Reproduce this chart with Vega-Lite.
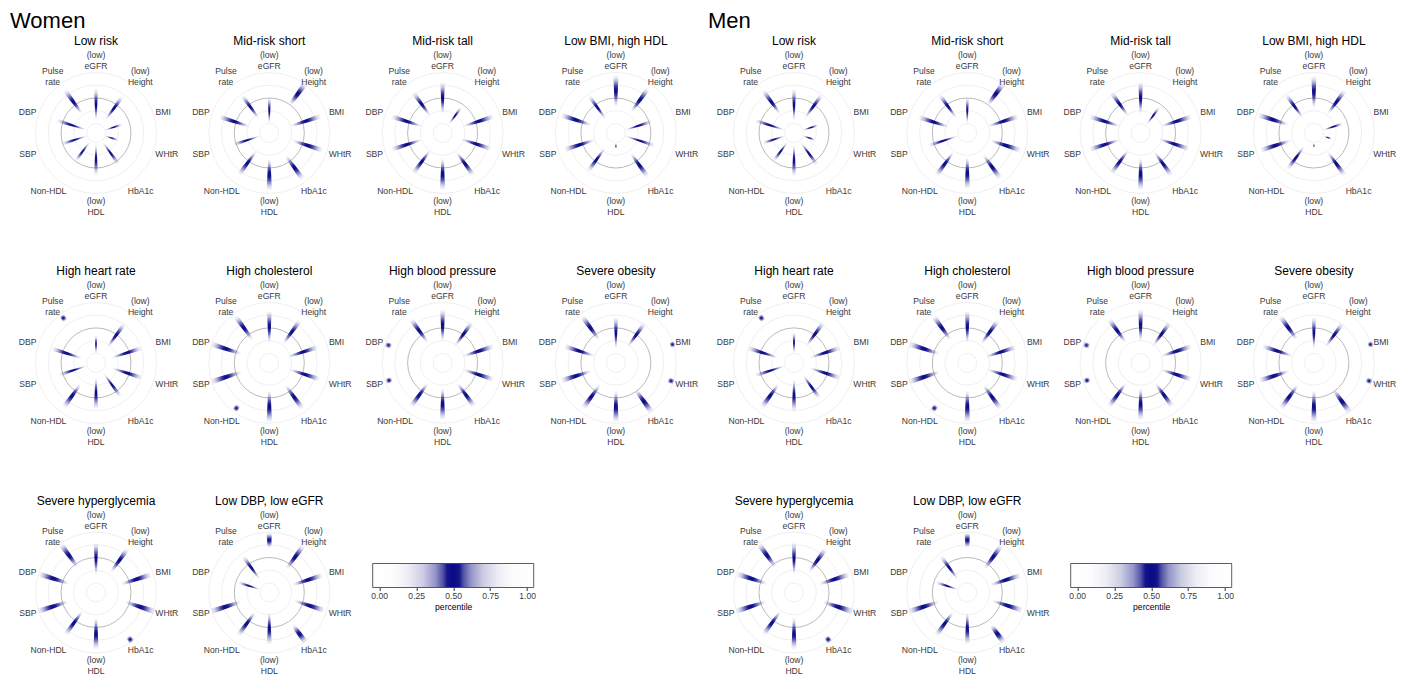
{
"$schema": "https://vega.github.io/schema/vega-lite/v6.json",
"background": "white",
"padding": {"left": 10, "top": 10, "right": 0, "bottom": 0},
"spacing": 8,
"config": {
 "font": "Liberation Sans",
 "view": {"stroke": null},
 "mark": {"color": {"gradient": "radial", "x1": 0.5, "y1": 0.5, "r1": 0, "x2": 0.5, "y2": 0.5, "r2": 0.55, "stops": [{"offset": 0, "color": "rgba(10,10,135,1)"}, {"offset": 0.15, "color": "rgba(10,10,135,0.95)"}, {"offset": 0.3, "color": "rgba(10,10,135,0.75)"}, {"offset": 0.45, "color": "rgba(10,10,135,0.5)"}, {"offset": 0.6, "color": "rgba(10,10,135,0.28)"}, {"offset": 0.75, "color": "rgba(10,10,135,0.12)"}, {"offset": 0.9, "color": "rgba(10,10,135,0.03)"}, {"offset": 1, "color": "rgba(10,10,135,0)"}]}},
 "title": {"fontSize": 22, "fontWeight": "normal", "anchor": "start", "color": "#000", "offset": 2},
 "header": {"labelFontSize": 12, "labelColor": "#000", "labelPadding": -1},
 "text": {"fontSize": 8.6, "color": "#3a3a3a", "lineHeight": 11, "align": "center", "baseline": "middle"}
},
"datasets": {
 "cb": [{"lo": -0.044, "hi": 1.044}],
 "d": [
{"s":"W","p":"Low risk","v":"eGFR","lo":0.07,"hi":0.67},
{"s":"W","p":"Low risk","v":"Height","lo":0.1,"hi":0.7},
{"s":"W","p":"Low risk","v":"BMI","lo":0,"hi":0.34},
{"s":"W","p":"Low risk","v":"WHtR","lo":0,"hi":0.26},
{"s":"W","p":"Low risk","v":"HbA1c","lo":0,"hi":0.58},
{"s":"W","p":"Low risk","v":"HDL","lo":0.03,"hi":0.63},
{"s":"W","p":"Low risk","v":"NonHDL","lo":0,"hi":0.5},
{"s":"W","p":"Low risk","v":"SBP","lo":0,"hi":0.5},
{"s":"W","p":"Low risk","v":"DBP","lo":0.01,"hi":0.61},
{"s":"W","p":"Low risk","v":"Pulse","lo":0.26,"hi":0.86},
{"s":"W","p":"Mid-risk short","v":"eGFR","lo":0,"hi":0.5},
{"s":"W","p":"Mid-risk short","v":"Height","lo":0.48,"hi":1.02},
{"s":"W","p":"Mid-risk short","v":"BMI","lo":0.26,"hi":0.86},
{"s":"W","p":"Mid-risk short","v":"WHtR","lo":0.3,"hi":0.9},
{"s":"W","p":"Mid-risk short","v":"HbA1c","lo":0.34,"hi":0.94},
{"s":"W","p":"Mid-risk short","v":"HDL","lo":0.33,"hi":0.93},
{"s":"W","p":"Mid-risk short","v":"NonHDL","lo":0.23,"hi":0.83},
{"s":"W","p":"Mid-risk short","v":"SBP","lo":0,"hi":0.54},
{"s":"W","p":"Mid-risk short","v":"DBP","lo":0.23,"hi":0.83},
{"s":"W","p":"Mid-risk short","v":"Pulse","lo":0.13,"hi":0.73},
{"s":"W","p":"Mid-risk tall","v":"eGFR","lo":0.2,"hi":0.8},
{"s":"W","p":"Mid-risk tall","v":"Height","lo":0,"hi":0.44},
{"s":"W","p":"Mid-risk tall","v":"BMI","lo":0.25,"hi":0.85},
{"s":"W","p":"Mid-risk tall","v":"WHtR","lo":0.2,"hi":0.8},
{"s":"W","p":"Mid-risk tall","v":"HbA1c","lo":0.25,"hi":0.85},
{"s":"W","p":"Mid-risk tall","v":"HDL","lo":0.32,"hi":0.92},
{"s":"W","p":"Mid-risk tall","v":"NonHDL","lo":0.2,"hi":0.8},
{"s":"W","p":"Mid-risk tall","v":"SBP","lo":0.25,"hi":0.85},
{"s":"W","p":"Mid-risk tall","v":"DBP","lo":0.25,"hi":0.85},
{"s":"W","p":"Mid-risk tall","v":"Pulse","lo":0.2,"hi":0.8},
{"s":"W","p":"Low BMI, high HDL","v":"eGFR","lo":0.34,"hi":0.94},
{"s":"W","p":"Low BMI, high HDL","v":"Height","lo":0.3,"hi":0.9},
{"s":"W","p":"Low BMI, high HDL","v":"BMI","lo":0,"hi":0.54},
{"s":"W","p":"Low BMI, high HDL","v":"WHtR","lo":0,"hi":0.6},
{"s":"W","p":"Low BMI, high HDL","v":"HbA1c","lo":0.28,"hi":0.88},
{"s":"W","p":"Low BMI, high HDL","v":"HDL","lo":0.02,"hi":0.12},
{"s":"W","p":"Low BMI, high HDL","v":"NonHDL","lo":0.15,"hi":0.75},
{"s":"W","p":"Low BMI, high HDL","v":"SBP","lo":0.26,"hi":0.86},
{"s":"W","p":"Low BMI, high HDL","v":"DBP","lo":0.33,"hi":0.93},
{"s":"W","p":"Low BMI, high HDL","v":"Pulse","lo":0.12,"hi":0.72},
{"s":"W","p":"High heart rate","v":"eGFR","lo":0,"hi":0.34},
{"s":"W","p":"High heart rate","v":"Height","lo":0.17,"hi":0.77},
{"s":"W","p":"High heart rate","v":"BMI","lo":0.14,"hi":0.74},
{"s":"W","p":"High heart rate","v":"WHtR","lo":0.15,"hi":0.75},
{"s":"W","p":"High heart rate","v":"HbA1c","lo":0.04,"hi":0.64},
{"s":"W","p":"High heart rate","v":"HDL","lo":0.11,"hi":0.71},
{"s":"W","p":"High heart rate","v":"NonHDL","lo":0.3,"hi":0.9},
{"s":"W","p":"High heart rate","v":"SBP","lo":0,"hi":0.56},
{"s":"W","p":"High heart rate","v":"DBP","lo":0.11,"hi":0.71},
{"s":"W","p":"High heart rate","v":"Pulse","lo":0.84,"hi":0.96},
{"s":"W","p":"High cholesterol","v":"eGFR","lo":0.22,"hi":0.82},
{"s":"W","p":"High cholesterol","v":"Height","lo":0.25,"hi":0.85},
{"s":"W","p":"High cholesterol","v":"BMI","lo":0.2,"hi":0.8},
{"s":"W","p":"High cholesterol","v":"WHtR","lo":0.24,"hi":0.84},
{"s":"W","p":"High cholesterol","v":"HbA1c","lo":0.33,"hi":0.93},
{"s":"W","p":"High cholesterol","v":"HDL","lo":0.37,"hi":0.97},
{"s":"W","p":"High cholesterol","v":"NonHDL","lo":0.85,"hi":0.97},
{"s":"W","p":"High cholesterol","v":"SBP","lo":0.4,"hi":1.0},
{"s":"W","p":"High cholesterol","v":"DBP","lo":0.4,"hi":1.0},
{"s":"W","p":"High cholesterol","v":"Pulse","lo":0.35,"hi":0.95},
{"s":"W","p":"High blood pressure","v":"eGFR","lo":0.25,"hi":0.85},
{"s":"W","p":"High blood pressure","v":"Height","lo":0.2,"hi":0.8},
{"s":"W","p":"High blood pressure","v":"BMI","lo":0.25,"hi":0.85},
{"s":"W","p":"High blood pressure","v":"WHtR","lo":0.25,"hi":0.85},
{"s":"W","p":"High blood pressure","v":"HbA1c","lo":0.28,"hi":0.88},
{"s":"W","p":"High blood pressure","v":"HDL","lo":0.32,"hi":0.92},
{"s":"W","p":"High blood pressure","v":"NonHDL","lo":0.28,"hi":0.88},
{"s":"W","p":"High blood pressure","v":"SBP","lo":0.86,"hi":0.98},
{"s":"W","p":"High blood pressure","v":"DBP","lo":0.87,"hi":0.99},
{"s":"W","p":"High blood pressure","v":"Pulse","lo":0.28,"hi":0.88},
{"s":"W","p":"Severe obesity","v":"eGFR","lo":0.1,"hi":0.7},
{"s":"W","p":"Severe obesity","v":"Height","lo":0.18,"hi":0.78},
{"s":"W","p":"Severe obesity","v":"BMI","lo":0.93,"hi":1.03},
{"s":"W","p":"Severe obesity","v":"WHtR","lo":0.89,"hi":1.01},
{"s":"W","p":"Severe obesity","v":"HbA1c","lo":0.44,"hi":1.02},
{"s":"W","p":"Severe obesity","v":"HDL","lo":0.37,"hi":0.97},
{"s":"W","p":"Severe obesity","v":"NonHDL","lo":0.32,"hi":0.92},
{"s":"W","p":"Severe obesity","v":"SBP","lo":0.33,"hi":0.93},
{"s":"W","p":"Severe obesity","v":"DBP","lo":0.26,"hi":0.86},
{"s":"W","p":"Severe obesity","v":"Pulse","lo":0.35,"hi":0.95},
{"s":"W","p":"Severe hyperglycemia","v":"eGFR","lo":0.18,"hi":0.78},
{"s":"W","p":"Severe hyperglycemia","v":"Height","lo":0.28,"hi":0.88},
{"s":"W","p":"Severe hyperglycemia","v":"BMI","lo":0.34,"hi":0.94},
{"s":"W","p":"Severe hyperglycemia","v":"WHtR","lo":0.42,"hi":1.02},
{"s":"W","p":"Severe hyperglycemia","v":"HbA1c","lo":0.89,"hi":1.01},
{"s":"W","p":"Severe hyperglycemia","v":"HDL","lo":0.32,"hi":0.92},
{"s":"W","p":"Severe hyperglycemia","v":"NonHDL","lo":0.24,"hi":0.84},
{"s":"W","p":"Severe hyperglycemia","v":"SBP","lo":0.4,"hi":1.0},
{"s":"W","p":"Severe hyperglycemia","v":"DBP","lo":0.38,"hi":0.98},
{"s":"W","p":"Severe hyperglycemia","v":"Pulse","lo":0.4,"hi":1.0},
{"s":"W","p":"Low DBP, low eGFR","v":"eGFR","lo":0.7,"hi":0.98},
{"s":"W","p":"Low DBP, low eGFR","v":"Height","lo":0.36,"hi":0.96},
{"s":"W","p":"Low DBP, low eGFR","v":"BMI","lo":0.3,"hi":0.9},
{"s":"W","p":"Low DBP, low eGFR","v":"WHtR","lo":0.34,"hi":0.94},
{"s":"W","p":"Low DBP, low eGFR","v":"HbA1c","lo":0.6,"hi":1.02},
{"s":"W","p":"Low DBP, low eGFR","v":"HDL","lo":0.22,"hi":0.82},
{"s":"W","p":"Low DBP, low eGFR","v":"NonHDL","lo":0.26,"hi":0.86},
{"s":"W","p":"Low DBP, low eGFR","v":"SBP","lo":0.41,"hi":1.01},
{"s":"W","p":"Low DBP, low eGFR","v":"DBP","lo":0,"hi":0.44},
{"s":"W","p":"Low DBP, low eGFR","v":"Pulse","lo":0.1,"hi":0.7},
{"s":"M","p":"Low risk","v":"eGFR","lo":0.06,"hi":0.66},
{"s":"M","p":"Low risk","v":"Height","lo":0.15,"hi":0.75},
{"s":"M","p":"Low risk","v":"BMI","lo":0,"hi":0.3},
{"s":"M","p":"Low risk","v":"WHtR","lo":0,"hi":0.24},
{"s":"M","p":"Low risk","v":"HbA1c","lo":0,"hi":0.6},
{"s":"M","p":"Low risk","v":"HDL","lo":0.05,"hi":0.65},
{"s":"M","p":"Low risk","v":"NonHDL","lo":0,"hi":0.5},
{"s":"M","p":"Low risk","v":"SBP","lo":0,"hi":0.44},
{"s":"M","p":"Low risk","v":"DBP","lo":0,"hi":0.6},
{"s":"M","p":"Low risk","v":"Pulse","lo":0.25,"hi":0.85},
{"s":"M","p":"Mid-risk short","v":"eGFR","lo":0,"hi":0.5},
{"s":"M","p":"Mid-risk short","v":"Height","lo":0.48,"hi":1.02},
{"s":"M","p":"Mid-risk short","v":"BMI","lo":0.25,"hi":0.85},
{"s":"M","p":"Mid-risk short","v":"WHtR","lo":0.3,"hi":0.9},
{"s":"M","p":"Mid-risk short","v":"HbA1c","lo":0.32,"hi":0.92},
{"s":"M","p":"Mid-risk short","v":"HDL","lo":0.3,"hi":0.9},
{"s":"M","p":"Mid-risk short","v":"NonHDL","lo":0.25,"hi":0.85},
{"s":"M","p":"Mid-risk short","v":"SBP","lo":0,"hi":0.6},
{"s":"M","p":"Mid-risk short","v":"DBP","lo":0.2,"hi":0.8},
{"s":"M","p":"Mid-risk short","v":"Pulse","lo":0.15,"hi":0.75},
{"s":"M","p":"Mid-risk tall","v":"eGFR","lo":0.2,"hi":0.8},
{"s":"M","p":"Mid-risk tall","v":"Height","lo":0,"hi":0.44},
{"s":"M","p":"Mid-risk tall","v":"BMI","lo":0.25,"hi":0.85},
{"s":"M","p":"Mid-risk tall","v":"WHtR","lo":0.2,"hi":0.8},
{"s":"M","p":"Mid-risk tall","v":"HbA1c","lo":0.25,"hi":0.85},
{"s":"M","p":"Mid-risk tall","v":"HDL","lo":0.32,"hi":0.92},
{"s":"M","p":"Mid-risk tall","v":"NonHDL","lo":0.2,"hi":0.8},
{"s":"M","p":"Mid-risk tall","v":"SBP","lo":0.25,"hi":0.85},
{"s":"M","p":"Mid-risk tall","v":"DBP","lo":0.25,"hi":0.85},
{"s":"M","p":"Mid-risk tall","v":"Pulse","lo":0.2,"hi":0.8},
{"s":"M","p":"Low BMI, high HDL","v":"eGFR","lo":0.32,"hi":0.92},
{"s":"M","p":"Low BMI, high HDL","v":"Height","lo":0.25,"hi":0.85},
{"s":"M","p":"Low BMI, high HDL","v":"BMI","lo":0,"hi":0.4},
{"s":"M","p":"Low BMI, high HDL","v":"WHtR","lo":0.03,"hi":0.17},
{"s":"M","p":"Low BMI, high HDL","v":"HbA1c","lo":0.25,"hi":0.85},
{"s":"M","p":"Low BMI, high HDL","v":"HDL","lo":0.02,"hi":0.1},
{"s":"M","p":"Low BMI, high HDL","v":"NonHDL","lo":0.1,"hi":0.7},
{"s":"M","p":"Low BMI, high HDL","v":"SBP","lo":0.3,"hi":0.9},
{"s":"M","p":"Low BMI, high HDL","v":"DBP","lo":0.35,"hi":0.95},
{"s":"M","p":"Low BMI, high HDL","v":"Pulse","lo":0.15,"hi":0.75},
{"s":"M","p":"High heart rate","v":"eGFR","lo":0,"hi":0.4},
{"s":"M","p":"High heart rate","v":"Height","lo":0.2,"hi":0.8},
{"s":"M","p":"High heart rate","v":"BMI","lo":0.15,"hi":0.75},
{"s":"M","p":"High heart rate","v":"WHtR","lo":0.15,"hi":0.75},
{"s":"M","p":"High heart rate","v":"HbA1c","lo":0.08,"hi":0.68},
{"s":"M","p":"High heart rate","v":"HDL","lo":0.15,"hi":0.75},
{"s":"M","p":"High heart rate","v":"NonHDL","lo":0.3,"hi":0.9},
{"s":"M","p":"High heart rate","v":"SBP","lo":0,"hi":0.6},
{"s":"M","p":"High heart rate","v":"DBP","lo":0.15,"hi":0.75},
{"s":"M","p":"High heart rate","v":"Pulse","lo":0.84,"hi":0.96},
{"s":"M","p":"High cholesterol","v":"eGFR","lo":0.22,"hi":0.82},
{"s":"M","p":"High cholesterol","v":"Height","lo":0.25,"hi":0.85},
{"s":"M","p":"High cholesterol","v":"BMI","lo":0.2,"hi":0.8},
{"s":"M","p":"High cholesterol","v":"WHtR","lo":0.24,"hi":0.84},
{"s":"M","p":"High cholesterol","v":"HbA1c","lo":0.33,"hi":0.93},
{"s":"M","p":"High cholesterol","v":"HDL","lo":0.37,"hi":0.97},
{"s":"M","p":"High cholesterol","v":"NonHDL","lo":0.85,"hi":0.97},
{"s":"M","p":"High cholesterol","v":"SBP","lo":0.4,"hi":1.0},
{"s":"M","p":"High cholesterol","v":"DBP","lo":0.4,"hi":1.0},
{"s":"M","p":"High cholesterol","v":"Pulse","lo":0.35,"hi":0.95},
{"s":"M","p":"High blood pressure","v":"eGFR","lo":0.25,"hi":0.85},
{"s":"M","p":"High blood pressure","v":"Height","lo":0.2,"hi":0.8},
{"s":"M","p":"High blood pressure","v":"BMI","lo":0.25,"hi":0.85},
{"s":"M","p":"High blood pressure","v":"WHtR","lo":0.25,"hi":0.85},
{"s":"M","p":"High blood pressure","v":"HbA1c","lo":0.28,"hi":0.88},
{"s":"M","p":"High blood pressure","v":"HDL","lo":0.32,"hi":0.92},
{"s":"M","p":"High blood pressure","v":"NonHDL","lo":0.28,"hi":0.88},
{"s":"M","p":"High blood pressure","v":"SBP","lo":0.86,"hi":0.98},
{"s":"M","p":"High blood pressure","v":"DBP","lo":0.87,"hi":0.99},
{"s":"M","p":"High blood pressure","v":"Pulse","lo":0.28,"hi":0.88},
{"s":"M","p":"Severe obesity","v":"eGFR","lo":0.1,"hi":0.7},
{"s":"M","p":"Severe obesity","v":"Height","lo":0.18,"hi":0.78},
{"s":"M","p":"Severe obesity","v":"BMI","lo":0.93,"hi":1.03},
{"s":"M","p":"Severe obesity","v":"WHtR","lo":0.89,"hi":1.01},
{"s":"M","p":"Severe obesity","v":"HbA1c","lo":0.44,"hi":1.02},
{"s":"M","p":"Severe obesity","v":"HDL","lo":0.37,"hi":0.97},
{"s":"M","p":"Severe obesity","v":"NonHDL","lo":0.32,"hi":0.92},
{"s":"M","p":"Severe obesity","v":"SBP","lo":0.33,"hi":0.93},
{"s":"M","p":"Severe obesity","v":"DBP","lo":0.26,"hi":0.86},
{"s":"M","p":"Severe obesity","v":"Pulse","lo":0.35,"hi":0.95},
{"s":"M","p":"Severe hyperglycemia","v":"eGFR","lo":0.18,"hi":0.78},
{"s":"M","p":"Severe hyperglycemia","v":"Height","lo":0.28,"hi":0.88},
{"s":"M","p":"Severe hyperglycemia","v":"BMI","lo":0.34,"hi":0.94},
{"s":"M","p":"Severe hyperglycemia","v":"WHtR","lo":0.42,"hi":1.02},
{"s":"M","p":"Severe hyperglycemia","v":"HbA1c","lo":0.89,"hi":1.01},
{"s":"M","p":"Severe hyperglycemia","v":"HDL","lo":0.32,"hi":0.92},
{"s":"M","p":"Severe hyperglycemia","v":"NonHDL","lo":0.24,"hi":0.84},
{"s":"M","p":"Severe hyperglycemia","v":"SBP","lo":0.4,"hi":1.0},
{"s":"M","p":"Severe hyperglycemia","v":"DBP","lo":0.38,"hi":0.98},
{"s":"M","p":"Severe hyperglycemia","v":"Pulse","lo":0.4,"hi":1.0},
{"s":"M","p":"Low DBP, low eGFR","v":"eGFR","lo":0.7,"hi":0.98},
{"s":"M","p":"Low DBP, low eGFR","v":"Height","lo":0.36,"hi":0.96},
{"s":"M","p":"Low DBP, low eGFR","v":"BMI","lo":0.3,"hi":0.9},
{"s":"M","p":"Low DBP, low eGFR","v":"WHtR","lo":0.34,"hi":0.94},
{"s":"M","p":"Low DBP, low eGFR","v":"HbA1c","lo":0.6,"hi":1.02},
{"s":"M","p":"Low DBP, low eGFR","v":"HDL","lo":0.22,"hi":0.82},
{"s":"M","p":"Low DBP, low eGFR","v":"NonHDL","lo":0.26,"hi":0.86},
{"s":"M","p":"Low DBP, low eGFR","v":"SBP","lo":0.41,"hi":1.01},
{"s":"M","p":"Low DBP, low eGFR","v":"DBP","lo":0,"hi":0.44},
{"s":"M","p":"Low DBP, low eGFR","v":"Pulse","lo":0.1,"hi":0.7}
 ]
},
"hconcat": [
 {"title": {"text": "Women", "dx": -2}, "spacing": 45.5, "vconcat": [
  {"data": {"name": "d"}, "transform": [{"filter": {"field": "s", "equal": "W"}}, {"filter": {"field": "p", "oneOf": ["Low risk", "Mid-risk short", "Mid-risk tall", "Low BMI, high HDL", "High heart rate", "High cholesterol", "High blood pressure", "Severe obesity"]}}],
   "facet": {"field": "p", "type": "nominal", "title": null, "sort": ["Low risk", "Mid-risk short", "Mid-risk tall", "Low BMI, high HDL", "High heart rate", "High cholesterol", "High blood pressure", "Severe obesity"]},
   "columns": 4, "spacing": {"row": 45.9, "column": 5.3},
   "spec": {"width": 168, "height": 172, "layer": [
{"transform":[{"filter":"datum.v=='eGFR'"}],"mark":{"type":"arc","theta":0,"theta2":6.2832,"radius2":0,"filled":false,"stroke":"#ebebeb","strokeWidth":0.8},"encoding":{"radius":{"datum":0,"type":"quantitative","scale":{"type":"linear","domain":[0,1],"range":[9.5,60.5]}}}},
{"transform":[{"filter":"datum.v=='eGFR'"}],"mark":{"type":"arc","theta":0,"theta2":6.2832,"radius2":0,"filled":false,"stroke":"#ebebeb","strokeWidth":0.8},"encoding":{"radius":{"datum":0.25,"type":"quantitative","scale":{"type":"linear","domain":[0,1],"range":[9.5,60.5]}}}},
{"transform":[{"filter":"datum.v=='eGFR'"}],"mark":{"type":"arc","theta":0,"theta2":6.2832,"radius2":0,"filled":false,"stroke":"#ebebeb","strokeWidth":0.8},"encoding":{"radius":{"datum":0.75,"type":"quantitative","scale":{"type":"linear","domain":[0,1],"range":[9.5,60.5]}}}},
{"transform":[{"filter":"datum.v=='eGFR'"}],"mark":{"type":"arc","theta":0,"theta2":6.2832,"radius2":0,"filled":false,"stroke":"#ebebeb","strokeWidth":0.8},"encoding":{"radius":{"datum":1,"type":"quantitative","scale":{"type":"linear","domain":[0,1],"range":[9.5,60.5]}}}},
{"transform":[{"filter":"datum.v=='eGFR'"}],"mark":{"type":"arc","theta":0,"theta2":6.2832,"radius2":0,"filled":false,"stroke":"#a8a8a8","strokeWidth":0.8},"encoding":{"radius":{"datum":0.5,"type":"quantitative","scale":{"type":"linear","domain":[0,1],"range":[9.5,60.5]}}}},
{"transform":[{"filter":"datum.v=='eGFR'"}],"mark":{"type":"arc","theta":-0.045,"theta2":0.045},"encoding":{"radius":{"field":"lo","type":"quantitative","scale":{"type":"linear","domain":[0,1],"range":[9.5,60.5]}},"radius2":{"field":"hi"}}},
{"transform":[{"filter":"datum.v=='Height'"}],"mark":{"type":"arc","theta":0.5833,"theta2":0.6733},"encoding":{"radius":{"field":"lo","type":"quantitative","scale":{"type":"linear","domain":[0,1],"range":[9.5,60.5]}},"radius2":{"field":"hi"}}},
{"transform":[{"filter":"datum.v=='BMI'"}],"mark":{"type":"arc","theta":1.2116,"theta2":1.3016},"encoding":{"radius":{"field":"lo","type":"quantitative","scale":{"type":"linear","domain":[0,1],"range":[9.5,60.5]}},"radius2":{"field":"hi"}}},
{"transform":[{"filter":"datum.v=='WHtR'"}],"mark":{"type":"arc","theta":1.84,"theta2":1.93},"encoding":{"radius":{"field":"lo","type":"quantitative","scale":{"type":"linear","domain":[0,1],"range":[9.5,60.5]}},"radius2":{"field":"hi"}}},
{"transform":[{"filter":"datum.v=='HbA1c'"}],"mark":{"type":"arc","theta":2.4683,"theta2":2.5583},"encoding":{"radius":{"field":"lo","type":"quantitative","scale":{"type":"linear","domain":[0,1],"range":[9.5,60.5]}},"radius2":{"field":"hi"}}},
{"transform":[{"filter":"datum.v=='HDL'"}],"mark":{"type":"arc","theta":3.0966,"theta2":3.1866},"encoding":{"radius":{"field":"lo","type":"quantitative","scale":{"type":"linear","domain":[0,1],"range":[9.5,60.5]}},"radius2":{"field":"hi"}}},
{"transform":[{"filter":"datum.v=='NonHDL'"}],"mark":{"type":"arc","theta":3.7249,"theta2":3.8149},"encoding":{"radius":{"field":"lo","type":"quantitative","scale":{"type":"linear","domain":[0,1],"range":[9.5,60.5]}},"radius2":{"field":"hi"}}},
{"transform":[{"filter":"datum.v=='SBP'"}],"mark":{"type":"arc","theta":4.3532,"theta2":4.4432},"encoding":{"radius":{"field":"lo","type":"quantitative","scale":{"type":"linear","domain":[0,1],"range":[9.5,60.5]}},"radius2":{"field":"hi"}}},
{"transform":[{"filter":"datum.v=='DBP'"}],"mark":{"type":"arc","theta":4.9815,"theta2":5.0715},"encoding":{"radius":{"field":"lo","type":"quantitative","scale":{"type":"linear","domain":[0,1],"range":[9.5,60.5]}},"radius2":{"field":"hi"}}},
{"transform":[{"filter":"datum.v=='Pulse'"}],"mark":{"type":"arc","theta":5.6099,"theta2":5.6999},"encoding":{"radius":{"field":"lo","type":"quantitative","scale":{"type":"linear","domain":[0,1],"range":[9.5,60.5]}},"radius2":{"field":"hi"}}},
{"transform":[{"filter":"datum.v=='eGFR'"}],"mark":{"type":"text","text":["(low)","eGFR"],"dx":0,"dy":-15},"encoding":{"theta":{"datum":0,"type":"quantitative","scale":{"type":"linear","domain":[0,360],"range":[0,6.2832]}},"radius":{"datum":1.049,"type":"quantitative","scale":{"type":"linear","domain":[0,1],"range":[9.5,60.5]}}}},
{"transform":[{"filter":"datum.v=='eGFR'"}],"mark":{"type":"text","text":["(low)","Height"],"dx":7.3,"dy":-11},"encoding":{"theta":{"datum":36,"type":"quantitative","scale":{"type":"linear","domain":[0,360],"range":[0,6.2832]}},"radius":{"datum":1.049,"type":"quantitative","scale":{"type":"linear","domain":[0,1],"range":[9.5,60.5]}}}},
{"transform":[{"filter":"datum.v=='eGFR'"}],"mark":{"type":"text","text":"BMI","dx":7.3,"dy":-1.5},"encoding":{"theta":{"datum":72,"type":"quantitative","scale":{"type":"linear","domain":[0,360],"range":[0,6.2832]}},"radius":{"datum":1.049,"type":"quantitative","scale":{"type":"linear","domain":[0,1],"range":[9.5,60.5]}}}},
{"transform":[{"filter":"datum.v=='eGFR'"}],"mark":{"type":"text","text":"WHtR","dx":10.9,"dy":1.5},"encoding":{"theta":{"datum":108,"type":"quantitative","scale":{"type":"linear","domain":[0,360],"range":[0,6.2832]}},"radius":{"datum":1.049,"type":"quantitative","scale":{"type":"linear","domain":[0,1],"range":[9.5,60.5]}}}},
{"transform":[{"filter":"datum.v=='eGFR'"}],"mark":{"type":"text","text":"HbA1c","dx":7.6,"dy":7},"encoding":{"theta":{"datum":144,"type":"quantitative","scale":{"type":"linear","domain":[0,360],"range":[0,6.2832]}},"radius":{"datum":1.049,"type":"quantitative","scale":{"type":"linear","domain":[0,1],"range":[9.5,60.5]}}}},
{"transform":[{"filter":"datum.v=='eGFR'"}],"mark":{"type":"text","text":["(low)","HDL"],"dx":0,"dy":5},"encoding":{"theta":{"datum":180,"type":"quantitative","scale":{"type":"linear","domain":[0,360],"range":[0,6.2832]}},"radius":{"datum":1.049,"type":"quantitative","scale":{"type":"linear","domain":[0,1],"range":[9.5,60.5]}}}},
{"transform":[{"filter":"datum.v=='eGFR'"}],"mark":{"type":"text","text":"Non-HDL","dx":-10.5,"dy":7},"encoding":{"theta":{"datum":216,"type":"quantitative","scale":{"type":"linear","domain":[0,360],"range":[0,6.2832]}},"radius":{"datum":1.049,"type":"quantitative","scale":{"type":"linear","domain":[0,1],"range":[9.5,60.5]}}}},
{"transform":[{"filter":"datum.v=='eGFR'"}],"mark":{"type":"text","text":"SBP","dx":-8.2,"dy":1.5},"encoding":{"theta":{"datum":252,"type":"quantitative","scale":{"type":"linear","domain":[0,360],"range":[0,6.2832]}},"radius":{"datum":1.049,"type":"quantitative","scale":{"type":"linear","domain":[0,1],"range":[9.5,60.5]}}}},
{"transform":[{"filter":"datum.v=='eGFR'"}],"mark":{"type":"text","text":"DBP","dx":-8.4,"dy":-1.5},"encoding":{"theta":{"datum":288,"type":"quantitative","scale":{"type":"linear","domain":[0,360],"range":[0,6.2832]}},"radius":{"datum":1.049,"type":"quantitative","scale":{"type":"linear","domain":[0,1],"range":[9.5,60.5]}}}},
{"transform":[{"filter":"datum.v=='eGFR'"}],"mark":{"type":"text","text":["Pulse","rate"],"dx":-6.3,"dy":-11},"encoding":{"theta":{"datum":324,"type":"quantitative","scale":{"type":"linear","domain":[0,360],"range":[0,6.2832]}},"radius":{"datum":1.049,"type":"quantitative","scale":{"type":"linear","domain":[0,1],"range":[9.5,60.5]}}}}
   ]}},
  {"spacing": 16.7, "hconcat": [
   {"data": {"name": "d"}, "transform": [{"filter": {"field": "s", "equal": "W"}}, {"filter": {"field": "p", "oneOf": ["Severe hyperglycemia", "Low DBP, low eGFR"]}}],
    "facet": {"field": "p", "type": "nominal", "title": null, "sort": ["Severe hyperglycemia", "Low DBP, low eGFR"]},
    "columns": 4, "spacing": {"row": 45.9, "column": 5.3},
    "spec": {"width": 168, "height": 172, "layer": [
{"transform":[{"filter":"datum.v=='eGFR'"}],"mark":{"type":"arc","theta":0,"theta2":6.2832,"radius2":0,"filled":false,"stroke":"#ebebeb","strokeWidth":0.8},"encoding":{"radius":{"datum":0,"type":"quantitative","scale":{"type":"linear","domain":[0,1],"range":[9.5,60.5]}}}},
{"transform":[{"filter":"datum.v=='eGFR'"}],"mark":{"type":"arc","theta":0,"theta2":6.2832,"radius2":0,"filled":false,"stroke":"#ebebeb","strokeWidth":0.8},"encoding":{"radius":{"datum":0.25,"type":"quantitative","scale":{"type":"linear","domain":[0,1],"range":[9.5,60.5]}}}},
{"transform":[{"filter":"datum.v=='eGFR'"}],"mark":{"type":"arc","theta":0,"theta2":6.2832,"radius2":0,"filled":false,"stroke":"#ebebeb","strokeWidth":0.8},"encoding":{"radius":{"datum":0.75,"type":"quantitative","scale":{"type":"linear","domain":[0,1],"range":[9.5,60.5]}}}},
{"transform":[{"filter":"datum.v=='eGFR'"}],"mark":{"type":"arc","theta":0,"theta2":6.2832,"radius2":0,"filled":false,"stroke":"#ebebeb","strokeWidth":0.8},"encoding":{"radius":{"datum":1,"type":"quantitative","scale":{"type":"linear","domain":[0,1],"range":[9.5,60.5]}}}},
{"transform":[{"filter":"datum.v=='eGFR'"}],"mark":{"type":"arc","theta":0,"theta2":6.2832,"radius2":0,"filled":false,"stroke":"#a8a8a8","strokeWidth":0.8},"encoding":{"radius":{"datum":0.5,"type":"quantitative","scale":{"type":"linear","domain":[0,1],"range":[9.5,60.5]}}}},
{"transform":[{"filter":"datum.v=='eGFR'"}],"mark":{"type":"arc","theta":-0.045,"theta2":0.045},"encoding":{"radius":{"field":"lo","type":"quantitative","scale":{"type":"linear","domain":[0,1],"range":[9.5,60.5]}},"radius2":{"field":"hi"}}},
{"transform":[{"filter":"datum.v=='Height'"}],"mark":{"type":"arc","theta":0.5833,"theta2":0.6733},"encoding":{"radius":{"field":"lo","type":"quantitative","scale":{"type":"linear","domain":[0,1],"range":[9.5,60.5]}},"radius2":{"field":"hi"}}},
{"transform":[{"filter":"datum.v=='BMI'"}],"mark":{"type":"arc","theta":1.2116,"theta2":1.3016},"encoding":{"radius":{"field":"lo","type":"quantitative","scale":{"type":"linear","domain":[0,1],"range":[9.5,60.5]}},"radius2":{"field":"hi"}}},
{"transform":[{"filter":"datum.v=='WHtR'"}],"mark":{"type":"arc","theta":1.84,"theta2":1.93},"encoding":{"radius":{"field":"lo","type":"quantitative","scale":{"type":"linear","domain":[0,1],"range":[9.5,60.5]}},"radius2":{"field":"hi"}}},
{"transform":[{"filter":"datum.v=='HbA1c'"}],"mark":{"type":"arc","theta":2.4683,"theta2":2.5583},"encoding":{"radius":{"field":"lo","type":"quantitative","scale":{"type":"linear","domain":[0,1],"range":[9.5,60.5]}},"radius2":{"field":"hi"}}},
{"transform":[{"filter":"datum.v=='HDL'"}],"mark":{"type":"arc","theta":3.0966,"theta2":3.1866},"encoding":{"radius":{"field":"lo","type":"quantitative","scale":{"type":"linear","domain":[0,1],"range":[9.5,60.5]}},"radius2":{"field":"hi"}}},
{"transform":[{"filter":"datum.v=='NonHDL'"}],"mark":{"type":"arc","theta":3.7249,"theta2":3.8149},"encoding":{"radius":{"field":"lo","type":"quantitative","scale":{"type":"linear","domain":[0,1],"range":[9.5,60.5]}},"radius2":{"field":"hi"}}},
{"transform":[{"filter":"datum.v=='SBP'"}],"mark":{"type":"arc","theta":4.3532,"theta2":4.4432},"encoding":{"radius":{"field":"lo","type":"quantitative","scale":{"type":"linear","domain":[0,1],"range":[9.5,60.5]}},"radius2":{"field":"hi"}}},
{"transform":[{"filter":"datum.v=='DBP'"}],"mark":{"type":"arc","theta":4.9815,"theta2":5.0715},"encoding":{"radius":{"field":"lo","type":"quantitative","scale":{"type":"linear","domain":[0,1],"range":[9.5,60.5]}},"radius2":{"field":"hi"}}},
{"transform":[{"filter":"datum.v=='Pulse'"}],"mark":{"type":"arc","theta":5.6099,"theta2":5.6999},"encoding":{"radius":{"field":"lo","type":"quantitative","scale":{"type":"linear","domain":[0,1],"range":[9.5,60.5]}},"radius2":{"field":"hi"}}},
{"transform":[{"filter":"datum.v=='eGFR'"}],"mark":{"type":"text","text":["(low)","eGFR"],"dx":0,"dy":-15},"encoding":{"theta":{"datum":0,"type":"quantitative","scale":{"type":"linear","domain":[0,360],"range":[0,6.2832]}},"radius":{"datum":1.049,"type":"quantitative","scale":{"type":"linear","domain":[0,1],"range":[9.5,60.5]}}}},
{"transform":[{"filter":"datum.v=='eGFR'"}],"mark":{"type":"text","text":["(low)","Height"],"dx":7.3,"dy":-11},"encoding":{"theta":{"datum":36,"type":"quantitative","scale":{"type":"linear","domain":[0,360],"range":[0,6.2832]}},"radius":{"datum":1.049,"type":"quantitative","scale":{"type":"linear","domain":[0,1],"range":[9.5,60.5]}}}},
{"transform":[{"filter":"datum.v=='eGFR'"}],"mark":{"type":"text","text":"BMI","dx":7.3,"dy":-1.5},"encoding":{"theta":{"datum":72,"type":"quantitative","scale":{"type":"linear","domain":[0,360],"range":[0,6.2832]}},"radius":{"datum":1.049,"type":"quantitative","scale":{"type":"linear","domain":[0,1],"range":[9.5,60.5]}}}},
{"transform":[{"filter":"datum.v=='eGFR'"}],"mark":{"type":"text","text":"WHtR","dx":10.9,"dy":1.5},"encoding":{"theta":{"datum":108,"type":"quantitative","scale":{"type":"linear","domain":[0,360],"range":[0,6.2832]}},"radius":{"datum":1.049,"type":"quantitative","scale":{"type":"linear","domain":[0,1],"range":[9.5,60.5]}}}},
{"transform":[{"filter":"datum.v=='eGFR'"}],"mark":{"type":"text","text":"HbA1c","dx":7.6,"dy":7},"encoding":{"theta":{"datum":144,"type":"quantitative","scale":{"type":"linear","domain":[0,360],"range":[0,6.2832]}},"radius":{"datum":1.049,"type":"quantitative","scale":{"type":"linear","domain":[0,1],"range":[9.5,60.5]}}}},
{"transform":[{"filter":"datum.v=='eGFR'"}],"mark":{"type":"text","text":["(low)","HDL"],"dx":0,"dy":5},"encoding":{"theta":{"datum":180,"type":"quantitative","scale":{"type":"linear","domain":[0,360],"range":[0,6.2832]}},"radius":{"datum":1.049,"type":"quantitative","scale":{"type":"linear","domain":[0,1],"range":[9.5,60.5]}}}},
{"transform":[{"filter":"datum.v=='eGFR'"}],"mark":{"type":"text","text":"Non-HDL","dx":-10.5,"dy":7},"encoding":{"theta":{"datum":216,"type":"quantitative","scale":{"type":"linear","domain":[0,360],"range":[0,6.2832]}},"radius":{"datum":1.049,"type":"quantitative","scale":{"type":"linear","domain":[0,1],"range":[9.5,60.5]}}}},
{"transform":[{"filter":"datum.v=='eGFR'"}],"mark":{"type":"text","text":"SBP","dx":-8.2,"dy":1.5},"encoding":{"theta":{"datum":252,"type":"quantitative","scale":{"type":"linear","domain":[0,360],"range":[0,6.2832]}},"radius":{"datum":1.049,"type":"quantitative","scale":{"type":"linear","domain":[0,1],"range":[9.5,60.5]}}}},
{"transform":[{"filter":"datum.v=='eGFR'"}],"mark":{"type":"text","text":"DBP","dx":-8.4,"dy":-1.5},"encoding":{"theta":{"datum":288,"type":"quantitative","scale":{"type":"linear","domain":[0,360],"range":[0,6.2832]}},"radius":{"datum":1.049,"type":"quantitative","scale":{"type":"linear","domain":[0,1],"range":[9.5,60.5]}}}},
{"transform":[{"filter":"datum.v=='eGFR'"}],"mark":{"type":"text","text":["Pulse","rate"],"dx":-6.3,"dy":-11},"encoding":{"theta":{"datum":324,"type":"quantitative","scale":{"type":"linear","domain":[0,360],"range":[0,6.2832]}},"radius":{"datum":1.049,"type":"quantitative","scale":{"type":"linear","domain":[0,1],"range":[9.5,60.5]}}}}
    ]}},
   {"width": 161, "height": 81, "data": {"name": "cb"}, "mark": {"type": "rect", "stroke": "#333", "strokeWidth": 0.8, "fill": {"gradient": "linear", "x1": 0, "y1": 0.5, "x2": 1, "y2": 0.5, "stops": [{"offset": 0, "color": "#ffffff"}, {"offset": 0.132, "color": "#fcfcfe"}, {"offset": 0.224, "color": "#ececf5"}, {"offset": 0.316, "color": "#cacae3"}, {"offset": 0.39, "color": "#9494c8"}, {"offset": 0.436, "color": "#5252a6"}, {"offset": 0.463, "color": "#14148b"}, {"offset": 0.5, "color": "#0a0a87"}, {"offset": 0.537, "color": "#14148b"}, {"offset": 0.564, "color": "#5252a6"}, {"offset": 0.61, "color": "#9494c8"}, {"offset": 0.684, "color": "#cacae3"}, {"offset": 0.776, "color": "#ececf5"}, {"offset": 0.868, "color": "#fcfcfe"}, {"offset": 1, "color": "#ffffff"}]}},
    "encoding": {"x": {"field": "lo", "type": "quantitative", "scale": {"domain": [-0.044, 1.044], "nice": false, "zero": false}, "axis": {"values": [0, 0.25, 0.5, 0.75, 1], "format": ".2f", "title": "percentile", "domain": false, "grid": false, "tickSize": 3, "tickColor": "#333", "labelColor": "#3a3a3a", "labelFontSize": 8.6, "titleFontSize": 8.6, "titleFontWeight": "normal", "titleColor": "#000", "labelPadding": 1, "titlePadding": 2}}, "x2": {"field": "hi"},
     "y": {"datum": 0, "type": "quantitative", "scale": {"domain": [0, 3.375], "nice": false, "zero": false}, "axis": null}, "y2": {"datum": 1}}}
  ]}
 ]},
 {"title": {"text": "Men", "dx": -2}, "spacing": 45.5, "vconcat": [
  {"data": {"name": "d"}, "transform": [{"filter": {"field": "s", "equal": "M"}}, {"filter": {"field": "p", "oneOf": ["Low risk", "Mid-risk short", "Mid-risk tall", "Low BMI, high HDL", "High heart rate", "High cholesterol", "High blood pressure", "Severe obesity"]}}],
   "facet": {"field": "p", "type": "nominal", "title": null, "sort": ["Low risk", "Mid-risk short", "Mid-risk tall", "Low BMI, high HDL", "High heart rate", "High cholesterol", "High blood pressure", "Severe obesity"]},
   "columns": 4, "spacing": {"row": 45.9, "column": 5.3},
   "spec": {"width": 168, "height": 172, "layer": [
{"transform":[{"filter":"datum.v=='eGFR'"}],"mark":{"type":"arc","theta":0,"theta2":6.2832,"radius2":0,"filled":false,"stroke":"#ebebeb","strokeWidth":0.8},"encoding":{"radius":{"datum":0,"type":"quantitative","scale":{"type":"linear","domain":[0,1],"range":[9.5,60.5]}}}},
{"transform":[{"filter":"datum.v=='eGFR'"}],"mark":{"type":"arc","theta":0,"theta2":6.2832,"radius2":0,"filled":false,"stroke":"#ebebeb","strokeWidth":0.8},"encoding":{"radius":{"datum":0.25,"type":"quantitative","scale":{"type":"linear","domain":[0,1],"range":[9.5,60.5]}}}},
{"transform":[{"filter":"datum.v=='eGFR'"}],"mark":{"type":"arc","theta":0,"theta2":6.2832,"radius2":0,"filled":false,"stroke":"#ebebeb","strokeWidth":0.8},"encoding":{"radius":{"datum":0.75,"type":"quantitative","scale":{"type":"linear","domain":[0,1],"range":[9.5,60.5]}}}},
{"transform":[{"filter":"datum.v=='eGFR'"}],"mark":{"type":"arc","theta":0,"theta2":6.2832,"radius2":0,"filled":false,"stroke":"#ebebeb","strokeWidth":0.8},"encoding":{"radius":{"datum":1,"type":"quantitative","scale":{"type":"linear","domain":[0,1],"range":[9.5,60.5]}}}},
{"transform":[{"filter":"datum.v=='eGFR'"}],"mark":{"type":"arc","theta":0,"theta2":6.2832,"radius2":0,"filled":false,"stroke":"#a8a8a8","strokeWidth":0.8},"encoding":{"radius":{"datum":0.5,"type":"quantitative","scale":{"type":"linear","domain":[0,1],"range":[9.5,60.5]}}}},
{"transform":[{"filter":"datum.v=='eGFR'"}],"mark":{"type":"arc","theta":-0.045,"theta2":0.045},"encoding":{"radius":{"field":"lo","type":"quantitative","scale":{"type":"linear","domain":[0,1],"range":[9.5,60.5]}},"radius2":{"field":"hi"}}},
{"transform":[{"filter":"datum.v=='Height'"}],"mark":{"type":"arc","theta":0.5833,"theta2":0.6733},"encoding":{"radius":{"field":"lo","type":"quantitative","scale":{"type":"linear","domain":[0,1],"range":[9.5,60.5]}},"radius2":{"field":"hi"}}},
{"transform":[{"filter":"datum.v=='BMI'"}],"mark":{"type":"arc","theta":1.2116,"theta2":1.3016},"encoding":{"radius":{"field":"lo","type":"quantitative","scale":{"type":"linear","domain":[0,1],"range":[9.5,60.5]}},"radius2":{"field":"hi"}}},
{"transform":[{"filter":"datum.v=='WHtR'"}],"mark":{"type":"arc","theta":1.84,"theta2":1.93},"encoding":{"radius":{"field":"lo","type":"quantitative","scale":{"type":"linear","domain":[0,1],"range":[9.5,60.5]}},"radius2":{"field":"hi"}}},
{"transform":[{"filter":"datum.v=='HbA1c'"}],"mark":{"type":"arc","theta":2.4683,"theta2":2.5583},"encoding":{"radius":{"field":"lo","type":"quantitative","scale":{"type":"linear","domain":[0,1],"range":[9.5,60.5]}},"radius2":{"field":"hi"}}},
{"transform":[{"filter":"datum.v=='HDL'"}],"mark":{"type":"arc","theta":3.0966,"theta2":3.1866},"encoding":{"radius":{"field":"lo","type":"quantitative","scale":{"type":"linear","domain":[0,1],"range":[9.5,60.5]}},"radius2":{"field":"hi"}}},
{"transform":[{"filter":"datum.v=='NonHDL'"}],"mark":{"type":"arc","theta":3.7249,"theta2":3.8149},"encoding":{"radius":{"field":"lo","type":"quantitative","scale":{"type":"linear","domain":[0,1],"range":[9.5,60.5]}},"radius2":{"field":"hi"}}},
{"transform":[{"filter":"datum.v=='SBP'"}],"mark":{"type":"arc","theta":4.3532,"theta2":4.4432},"encoding":{"radius":{"field":"lo","type":"quantitative","scale":{"type":"linear","domain":[0,1],"range":[9.5,60.5]}},"radius2":{"field":"hi"}}},
{"transform":[{"filter":"datum.v=='DBP'"}],"mark":{"type":"arc","theta":4.9815,"theta2":5.0715},"encoding":{"radius":{"field":"lo","type":"quantitative","scale":{"type":"linear","domain":[0,1],"range":[9.5,60.5]}},"radius2":{"field":"hi"}}},
{"transform":[{"filter":"datum.v=='Pulse'"}],"mark":{"type":"arc","theta":5.6099,"theta2":5.6999},"encoding":{"radius":{"field":"lo","type":"quantitative","scale":{"type":"linear","domain":[0,1],"range":[9.5,60.5]}},"radius2":{"field":"hi"}}},
{"transform":[{"filter":"datum.v=='eGFR'"}],"mark":{"type":"text","text":["(low)","eGFR"],"dx":0,"dy":-15},"encoding":{"theta":{"datum":0,"type":"quantitative","scale":{"type":"linear","domain":[0,360],"range":[0,6.2832]}},"radius":{"datum":1.049,"type":"quantitative","scale":{"type":"linear","domain":[0,1],"range":[9.5,60.5]}}}},
{"transform":[{"filter":"datum.v=='eGFR'"}],"mark":{"type":"text","text":["(low)","Height"],"dx":7.3,"dy":-11},"encoding":{"theta":{"datum":36,"type":"quantitative","scale":{"type":"linear","domain":[0,360],"range":[0,6.2832]}},"radius":{"datum":1.049,"type":"quantitative","scale":{"type":"linear","domain":[0,1],"range":[9.5,60.5]}}}},
{"transform":[{"filter":"datum.v=='eGFR'"}],"mark":{"type":"text","text":"BMI","dx":7.3,"dy":-1.5},"encoding":{"theta":{"datum":72,"type":"quantitative","scale":{"type":"linear","domain":[0,360],"range":[0,6.2832]}},"radius":{"datum":1.049,"type":"quantitative","scale":{"type":"linear","domain":[0,1],"range":[9.5,60.5]}}}},
{"transform":[{"filter":"datum.v=='eGFR'"}],"mark":{"type":"text","text":"WHtR","dx":10.9,"dy":1.5},"encoding":{"theta":{"datum":108,"type":"quantitative","scale":{"type":"linear","domain":[0,360],"range":[0,6.2832]}},"radius":{"datum":1.049,"type":"quantitative","scale":{"type":"linear","domain":[0,1],"range":[9.5,60.5]}}}},
{"transform":[{"filter":"datum.v=='eGFR'"}],"mark":{"type":"text","text":"HbA1c","dx":7.6,"dy":7},"encoding":{"theta":{"datum":144,"type":"quantitative","scale":{"type":"linear","domain":[0,360],"range":[0,6.2832]}},"radius":{"datum":1.049,"type":"quantitative","scale":{"type":"linear","domain":[0,1],"range":[9.5,60.5]}}}},
{"transform":[{"filter":"datum.v=='eGFR'"}],"mark":{"type":"text","text":["(low)","HDL"],"dx":0,"dy":5},"encoding":{"theta":{"datum":180,"type":"quantitative","scale":{"type":"linear","domain":[0,360],"range":[0,6.2832]}},"radius":{"datum":1.049,"type":"quantitative","scale":{"type":"linear","domain":[0,1],"range":[9.5,60.5]}}}},
{"transform":[{"filter":"datum.v=='eGFR'"}],"mark":{"type":"text","text":"Non-HDL","dx":-10.5,"dy":7},"encoding":{"theta":{"datum":216,"type":"quantitative","scale":{"type":"linear","domain":[0,360],"range":[0,6.2832]}},"radius":{"datum":1.049,"type":"quantitative","scale":{"type":"linear","domain":[0,1],"range":[9.5,60.5]}}}},
{"transform":[{"filter":"datum.v=='eGFR'"}],"mark":{"type":"text","text":"SBP","dx":-8.2,"dy":1.5},"encoding":{"theta":{"datum":252,"type":"quantitative","scale":{"type":"linear","domain":[0,360],"range":[0,6.2832]}},"radius":{"datum":1.049,"type":"quantitative","scale":{"type":"linear","domain":[0,1],"range":[9.5,60.5]}}}},
{"transform":[{"filter":"datum.v=='eGFR'"}],"mark":{"type":"text","text":"DBP","dx":-8.4,"dy":-1.5},"encoding":{"theta":{"datum":288,"type":"quantitative","scale":{"type":"linear","domain":[0,360],"range":[0,6.2832]}},"radius":{"datum":1.049,"type":"quantitative","scale":{"type":"linear","domain":[0,1],"range":[9.5,60.5]}}}},
{"transform":[{"filter":"datum.v=='eGFR'"}],"mark":{"type":"text","text":["Pulse","rate"],"dx":-6.3,"dy":-11},"encoding":{"theta":{"datum":324,"type":"quantitative","scale":{"type":"linear","domain":[0,360],"range":[0,6.2832]}},"radius":{"datum":1.049,"type":"quantitative","scale":{"type":"linear","domain":[0,1],"range":[9.5,60.5]}}}}
   ]}},
  {"spacing": 16.7, "hconcat": [
   {"data": {"name": "d"}, "transform": [{"filter": {"field": "s", "equal": "M"}}, {"filter": {"field": "p", "oneOf": ["Severe hyperglycemia", "Low DBP, low eGFR"]}}],
    "facet": {"field": "p", "type": "nominal", "title": null, "sort": ["Severe hyperglycemia", "Low DBP, low eGFR"]},
    "columns": 4, "spacing": {"row": 45.9, "column": 5.3},
    "spec": {"width": 168, "height": 172, "layer": [
{"transform":[{"filter":"datum.v=='eGFR'"}],"mark":{"type":"arc","theta":0,"theta2":6.2832,"radius2":0,"filled":false,"stroke":"#ebebeb","strokeWidth":0.8},"encoding":{"radius":{"datum":0,"type":"quantitative","scale":{"type":"linear","domain":[0,1],"range":[9.5,60.5]}}}},
{"transform":[{"filter":"datum.v=='eGFR'"}],"mark":{"type":"arc","theta":0,"theta2":6.2832,"radius2":0,"filled":false,"stroke":"#ebebeb","strokeWidth":0.8},"encoding":{"radius":{"datum":0.25,"type":"quantitative","scale":{"type":"linear","domain":[0,1],"range":[9.5,60.5]}}}},
{"transform":[{"filter":"datum.v=='eGFR'"}],"mark":{"type":"arc","theta":0,"theta2":6.2832,"radius2":0,"filled":false,"stroke":"#ebebeb","strokeWidth":0.8},"encoding":{"radius":{"datum":0.75,"type":"quantitative","scale":{"type":"linear","domain":[0,1],"range":[9.5,60.5]}}}},
{"transform":[{"filter":"datum.v=='eGFR'"}],"mark":{"type":"arc","theta":0,"theta2":6.2832,"radius2":0,"filled":false,"stroke":"#ebebeb","strokeWidth":0.8},"encoding":{"radius":{"datum":1,"type":"quantitative","scale":{"type":"linear","domain":[0,1],"range":[9.5,60.5]}}}},
{"transform":[{"filter":"datum.v=='eGFR'"}],"mark":{"type":"arc","theta":0,"theta2":6.2832,"radius2":0,"filled":false,"stroke":"#a8a8a8","strokeWidth":0.8},"encoding":{"radius":{"datum":0.5,"type":"quantitative","scale":{"type":"linear","domain":[0,1],"range":[9.5,60.5]}}}},
{"transform":[{"filter":"datum.v=='eGFR'"}],"mark":{"type":"arc","theta":-0.045,"theta2":0.045},"encoding":{"radius":{"field":"lo","type":"quantitative","scale":{"type":"linear","domain":[0,1],"range":[9.5,60.5]}},"radius2":{"field":"hi"}}},
{"transform":[{"filter":"datum.v=='Height'"}],"mark":{"type":"arc","theta":0.5833,"theta2":0.6733},"encoding":{"radius":{"field":"lo","type":"quantitative","scale":{"type":"linear","domain":[0,1],"range":[9.5,60.5]}},"radius2":{"field":"hi"}}},
{"transform":[{"filter":"datum.v=='BMI'"}],"mark":{"type":"arc","theta":1.2116,"theta2":1.3016},"encoding":{"radius":{"field":"lo","type":"quantitative","scale":{"type":"linear","domain":[0,1],"range":[9.5,60.5]}},"radius2":{"field":"hi"}}},
{"transform":[{"filter":"datum.v=='WHtR'"}],"mark":{"type":"arc","theta":1.84,"theta2":1.93},"encoding":{"radius":{"field":"lo","type":"quantitative","scale":{"type":"linear","domain":[0,1],"range":[9.5,60.5]}},"radius2":{"field":"hi"}}},
{"transform":[{"filter":"datum.v=='HbA1c'"}],"mark":{"type":"arc","theta":2.4683,"theta2":2.5583},"encoding":{"radius":{"field":"lo","type":"quantitative","scale":{"type":"linear","domain":[0,1],"range":[9.5,60.5]}},"radius2":{"field":"hi"}}},
{"transform":[{"filter":"datum.v=='HDL'"}],"mark":{"type":"arc","theta":3.0966,"theta2":3.1866},"encoding":{"radius":{"field":"lo","type":"quantitative","scale":{"type":"linear","domain":[0,1],"range":[9.5,60.5]}},"radius2":{"field":"hi"}}},
{"transform":[{"filter":"datum.v=='NonHDL'"}],"mark":{"type":"arc","theta":3.7249,"theta2":3.8149},"encoding":{"radius":{"field":"lo","type":"quantitative","scale":{"type":"linear","domain":[0,1],"range":[9.5,60.5]}},"radius2":{"field":"hi"}}},
{"transform":[{"filter":"datum.v=='SBP'"}],"mark":{"type":"arc","theta":4.3532,"theta2":4.4432},"encoding":{"radius":{"field":"lo","type":"quantitative","scale":{"type":"linear","domain":[0,1],"range":[9.5,60.5]}},"radius2":{"field":"hi"}}},
{"transform":[{"filter":"datum.v=='DBP'"}],"mark":{"type":"arc","theta":4.9815,"theta2":5.0715},"encoding":{"radius":{"field":"lo","type":"quantitative","scale":{"type":"linear","domain":[0,1],"range":[9.5,60.5]}},"radius2":{"field":"hi"}}},
{"transform":[{"filter":"datum.v=='Pulse'"}],"mark":{"type":"arc","theta":5.6099,"theta2":5.6999},"encoding":{"radius":{"field":"lo","type":"quantitative","scale":{"type":"linear","domain":[0,1],"range":[9.5,60.5]}},"radius2":{"field":"hi"}}},
{"transform":[{"filter":"datum.v=='eGFR'"}],"mark":{"type":"text","text":["(low)","eGFR"],"dx":0,"dy":-15},"encoding":{"theta":{"datum":0,"type":"quantitative","scale":{"type":"linear","domain":[0,360],"range":[0,6.2832]}},"radius":{"datum":1.049,"type":"quantitative","scale":{"type":"linear","domain":[0,1],"range":[9.5,60.5]}}}},
{"transform":[{"filter":"datum.v=='eGFR'"}],"mark":{"type":"text","text":["(low)","Height"],"dx":7.3,"dy":-11},"encoding":{"theta":{"datum":36,"type":"quantitative","scale":{"type":"linear","domain":[0,360],"range":[0,6.2832]}},"radius":{"datum":1.049,"type":"quantitative","scale":{"type":"linear","domain":[0,1],"range":[9.5,60.5]}}}},
{"transform":[{"filter":"datum.v=='eGFR'"}],"mark":{"type":"text","text":"BMI","dx":7.3,"dy":-1.5},"encoding":{"theta":{"datum":72,"type":"quantitative","scale":{"type":"linear","domain":[0,360],"range":[0,6.2832]}},"radius":{"datum":1.049,"type":"quantitative","scale":{"type":"linear","domain":[0,1],"range":[9.5,60.5]}}}},
{"transform":[{"filter":"datum.v=='eGFR'"}],"mark":{"type":"text","text":"WHtR","dx":10.9,"dy":1.5},"encoding":{"theta":{"datum":108,"type":"quantitative","scale":{"type":"linear","domain":[0,360],"range":[0,6.2832]}},"radius":{"datum":1.049,"type":"quantitative","scale":{"type":"linear","domain":[0,1],"range":[9.5,60.5]}}}},
{"transform":[{"filter":"datum.v=='eGFR'"}],"mark":{"type":"text","text":"HbA1c","dx":7.6,"dy":7},"encoding":{"theta":{"datum":144,"type":"quantitative","scale":{"type":"linear","domain":[0,360],"range":[0,6.2832]}},"radius":{"datum":1.049,"type":"quantitative","scale":{"type":"linear","domain":[0,1],"range":[9.5,60.5]}}}},
{"transform":[{"filter":"datum.v=='eGFR'"}],"mark":{"type":"text","text":["(low)","HDL"],"dx":0,"dy":5},"encoding":{"theta":{"datum":180,"type":"quantitative","scale":{"type":"linear","domain":[0,360],"range":[0,6.2832]}},"radius":{"datum":1.049,"type":"quantitative","scale":{"type":"linear","domain":[0,1],"range":[9.5,60.5]}}}},
{"transform":[{"filter":"datum.v=='eGFR'"}],"mark":{"type":"text","text":"Non-HDL","dx":-10.5,"dy":7},"encoding":{"theta":{"datum":216,"type":"quantitative","scale":{"type":"linear","domain":[0,360],"range":[0,6.2832]}},"radius":{"datum":1.049,"type":"quantitative","scale":{"type":"linear","domain":[0,1],"range":[9.5,60.5]}}}},
{"transform":[{"filter":"datum.v=='eGFR'"}],"mark":{"type":"text","text":"SBP","dx":-8.2,"dy":1.5},"encoding":{"theta":{"datum":252,"type":"quantitative","scale":{"type":"linear","domain":[0,360],"range":[0,6.2832]}},"radius":{"datum":1.049,"type":"quantitative","scale":{"type":"linear","domain":[0,1],"range":[9.5,60.5]}}}},
{"transform":[{"filter":"datum.v=='eGFR'"}],"mark":{"type":"text","text":"DBP","dx":-8.4,"dy":-1.5},"encoding":{"theta":{"datum":288,"type":"quantitative","scale":{"type":"linear","domain":[0,360],"range":[0,6.2832]}},"radius":{"datum":1.049,"type":"quantitative","scale":{"type":"linear","domain":[0,1],"range":[9.5,60.5]}}}},
{"transform":[{"filter":"datum.v=='eGFR'"}],"mark":{"type":"text","text":["Pulse","rate"],"dx":-6.3,"dy":-11},"encoding":{"theta":{"datum":324,"type":"quantitative","scale":{"type":"linear","domain":[0,360],"range":[0,6.2832]}},"radius":{"datum":1.049,"type":"quantitative","scale":{"type":"linear","domain":[0,1],"range":[9.5,60.5]}}}}
    ]}},
   {"width": 161, "height": 81, "data": {"name": "cb"}, "mark": {"type": "rect", "stroke": "#333", "strokeWidth": 0.8, "fill": {"gradient": "linear", "x1": 0, "y1": 0.5, "x2": 1, "y2": 0.5, "stops": [{"offset": 0, "color": "#ffffff"}, {"offset": 0.132, "color": "#fcfcfe"}, {"offset": 0.224, "color": "#ececf5"}, {"offset": 0.316, "color": "#cacae3"}, {"offset": 0.39, "color": "#9494c8"}, {"offset": 0.436, "color": "#5252a6"}, {"offset": 0.463, "color": "#14148b"}, {"offset": 0.5, "color": "#0a0a87"}, {"offset": 0.537, "color": "#14148b"}, {"offset": 0.564, "color": "#5252a6"}, {"offset": 0.61, "color": "#9494c8"}, {"offset": 0.684, "color": "#cacae3"}, {"offset": 0.776, "color": "#ececf5"}, {"offset": 0.868, "color": "#fcfcfe"}, {"offset": 1, "color": "#ffffff"}]}},
    "encoding": {"x": {"field": "lo", "type": "quantitative", "scale": {"domain": [-0.044, 1.044], "nice": false, "zero": false}, "axis": {"values": [0, 0.25, 0.5, 0.75, 1], "format": ".2f", "title": "percentile", "domain": false, "grid": false, "tickSize": 3, "tickColor": "#333", "labelColor": "#3a3a3a", "labelFontSize": 8.6, "titleFontSize": 8.6, "titleFontWeight": "normal", "titleColor": "#000", "labelPadding": 1, "titlePadding": 2}}, "x2": {"field": "hi"},
     "y": {"datum": 0, "type": "quantitative", "scale": {"domain": [0, 3.375], "nice": false, "zero": false}, "axis": null}, "y2": {"datum": 1}}}
  ]}
 ]}
]
}
